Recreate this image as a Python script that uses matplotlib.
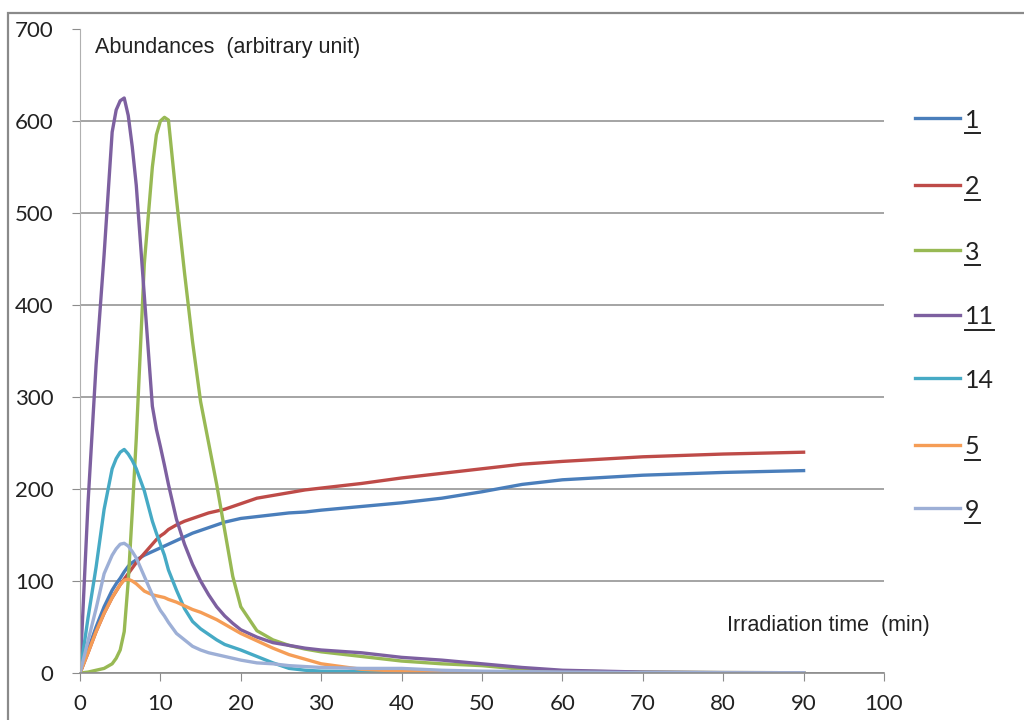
import numpy as np
import matplotlib
matplotlib.use("Agg")
import matplotlib.pyplot as plt
from matplotlib.lines import Line2D
from matplotlib.patches import Rectangle

# irradiation time (min)
t = [0, 1, 2, 3, 4, 4.5, 5, 5.5, 6, 6.5, 7, 8, 9, 9.5, 10, 10.5, 11, 12, 13, 14, 15, 16, 17, 18, 19, 20,
     22, 24, 26, 28, 30, 35, 40, 45, 50, 55, 60, 70, 80, 90]

s1 = [0, 25, 50, 72, 90, 97, 103, 110, 116, 120, 123, 128, 132, 134, 136, 138, 140, 144, 148, 152, 155, 158, 161,
      164, 166, 168, 170, 172, 174, 175, 177, 181, 185, 190, 197, 205, 210, 215, 218, 220]
s2 = [0, 22, 45, 65, 82, 89, 96, 102, 108, 114, 120, 130, 140, 145, 149, 152, 156, 161, 165, 168, 171, 174, 176,
      178, 181, 184, 190, 193, 196, 199, 201, 206, 212, 217, 222, 227, 230, 235, 238, 240]
s3 = [0, 1, 3, 5, 10, 16, 25, 45, 100, 175, 255, 445, 550, 585, 600, 604, 601, 515, 435, 360, 295, 250, 205,
      155, 105, 72, 46, 36, 30, 26, 23, 18, 13, 10, 8, 4, 2, 1, 0.5, 0.3]
s11 = [0, 185, 335, 455, 588, 612, 622, 625, 606, 572, 530, 410, 290, 265, 246, 226, 205, 167, 140, 118, 100, 85,
       72, 62, 54, 47, 39, 33, 30, 27, 25, 22, 17, 14, 10, 6, 3, 1, 0.5, 0.3]
s14 = [0, 60, 115, 178, 222, 233, 240, 243, 238, 231, 222, 198, 165, 152, 140, 128, 112, 90, 70, 56, 48, 42, 36,
       31, 28, 25, 18, 11, 5, 3, 2, 1.5, 1, 1, 1, 1, 0.5, 0.3, 0.2, 0.2]
s5 = [0, 22, 45, 65, 82, 89, 96, 101, 102, 100, 97, 89, 85, 84, 83, 82, 80, 77, 73, 69, 66, 62, 58, 53, 48, 43,
      35, 27, 20, 15, 10, 4, 2, 1.5, 1, 1, 0.5, 0.3, 0.2, 0.2]
s9 = [0, 35, 70, 108, 128, 135, 140, 141, 138, 132, 125, 105, 85, 76, 68, 62, 55, 43, 36, 29, 25, 22, 20, 18, 16,
      14, 11, 10, 8, 7, 6, 5, 5, 3, 2, 1.5, 1, 0.5, 0.3, 0.3]

labels = ["1", "2", "3", "11", "14", "5", "9"]
underlined = [True, True, True, True, False, True, True]
colors = ["#4A7EBB", "#BE4B48", "#98B954", "#7D60A0", "#46AAC5", "#F59D56", "#9DAFD6"]
series = [s1, s2, s3, s11, s14, s5, s9]

fig = plt.figure(figsize=(10.24, 7.2), dpi=100)
W, H = 1024, 720
ax = fig.add_axes([80 / W, 1 - 673 / H, (884 - 80) / W, (673 - 29) / H])

for y, c in zip(series, colors):
    ax.plot(t, y, color=c, lw=2.4, solid_joinstyle="round")

ax.set_xlim(0, 100)
ax.set_ylim(0, 700)
ax.set_xticks(range(0, 101, 10))
ax.set_yticks(range(0, 701, 100))
ax.grid(axis="y", color="#8c8c8c", lw=1.1)
ax.yaxis.get_gridlines()[-1].set_visible(False)
ax.set_axisbelow(True)
for sp in ["top", "right"]:
    ax.spines[sp].set_visible(False)
ax.spines["left"].set_color("#b0b0b0")
ax.spines["bottom"].set_color("#8c8c8c")
ax.spines["bottom"].set_linewidth(1.2)
ax.tick_params(axis="y", length=6, color="#8c8c8c", pad=13, labelsize=16)
ax.tick_params(axis="x", length=6, color="#8c8c8c", pad=9, labelsize=16)
for lab in ax.get_xticklabels() + ax.get_yticklabels():
    lab.set_fontfamily("Lato")
    lab.set_color("#222222")

fig.text(95 / W, 1 - 48 / H, "Abundances  (arbitrary unit)", ha="left", va="center",
         fontsize=15.5, family="Liberation Sans", color="#222222")
fig.text(930 / W, 1 - 625 / H, "Irradiation time  (min)", ha="right", va="center",
         fontsize=15.5, family="Liberation Sans", color="#222222")

# chart frame
fig.add_artist(Rectangle((8 / W, -0.1), 1.2, 1 - 13 / H + 0.1, transform=fig.transFigure,
                         fill=False, ec="#8a8a8a", lw=1.6))

# legend drawn by hand so the labels can be underlined
leg_y = [118, 185, 250, 315, 378, 445, 508]
texts = []
for lab, c, py in zip(labels, colors, leg_y):
    fig.add_artist(Line2D([915 / W, 960 / W], [1 - py / H] * 2, transform=fig.transFigure,
                          color=c, lw=2.4))
    texts.append(fig.text(965 / W, 1 - (py + 2) / H, lab, ha="left", va="center",
                          fontsize=18, family="Lato", color="#222222"))

fig.canvas.draw()
r = fig.canvas.get_renderer()
for tx, u in zip(texts, underlined):
    if not u:
        continue
    bb = tx.get_window_extent(r)
    yy = (bb.y0 - 1) / H
    fig.add_artist(Line2D([bb.x0 / W, bb.x1 / W], [yy, yy], transform=fig.transFigure,
                          color="#222222", lw=1.4))

fig.savefig("out.png", dpi=100)
